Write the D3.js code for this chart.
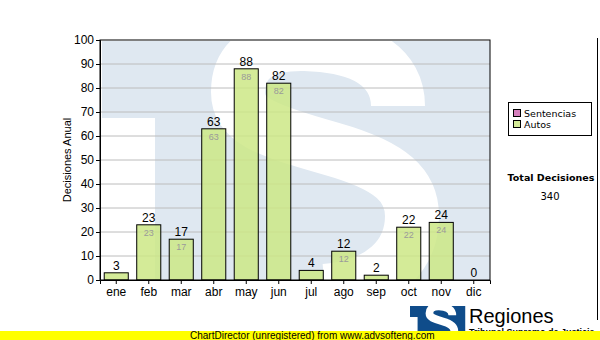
<!DOCTYPE html>
<html>
<head>
<meta charset="utf-8">
<script src="https://cdn.jsdelivr.net/npm/d3@7"></script>
<style>
  body { margin: 0; background: #fff; }
  svg { display: block; }
</style>
</head>
<body>
<script>
// data
var months = ["ene","feb","mar","abr","may","jun","jul","ago","sep","oct","nov","dic"];
var sentencias = [0,0,0,0,0,0,0,0,0,0,0,0];
var autos = [3,23,17,63,88,82,4,12,2,22,24,0];
var yTicks = [0,10,20,30,40,50,60,70,80,90,100];
var legendNames = ["Sentencias","Autos"];
var legendColors = ["#d67fbd","#d4eb98"];
var totalLabel = "Total Decisiones";

var width = 600, height = 340;
var plot = {left: 100, right: 490, top: 40, bottom: 280};

var svg = d3.select("body").append("svg")
    .attr("width", width)
    .attr("height", height);

var x = d3.scaleBand().domain(months).range([plot.left, plot.right])
    .paddingInner(0.26).paddingOuter(0.13);
var y = d3.scaleLinear().domain([0, 100]).range([plot.bottom, plot.top]);

// logo shape, drawn big as watermark and small at the bottom
var sPath = "M398,106 C398,68 365,46 305,44 C258,43 238,62 238,92 C238,120 264,130 332,149 " +
            "C392,166 412,186 412,216 C412,256 382,286 325,291";

function drawLogo(g, id, blue) {
  var clip = svg.append("clipPath").attr("id", id);
  clip.append("rect").attr("x", 102).attr("y", 41).attr("width", 388).attr("height", 239);
  var lg = g.append("g").attr("clip-path", "url(#" + id + ")");
  lg.append("rect").attr("x", 102).attr("y", 41).attr("width", 388).attr("height", 239).attr("fill", blue);
  lg.append("rect").attr("x", 100).attr("y", 118).attr("width", 55).attr("height", 170).attr("fill", "#fff");
  lg.append("path").attr("d", sPath).attr("fill", "none").attr("stroke", "#fff").attr("stroke-width", 54);
}

drawLogo(svg.append("g"), "wm", "#dfe8f1");

// grid
svg.append("g").selectAll("line")
    .data(yTicks.slice(1, -1))
  .enter().append("line")
    .attr("x1", plot.left).attr("x2", plot.right)
    .attr("y1", function(d) { return y(d); })
    .attr("y2", function(d) { return y(d); })
    .attr("stroke", "#bcbcbc");

// bars
var totals = autos.map(function(d, i) { return d + sentencias[i]; });

svg.append("g").selectAll("rect")
    .data(months)
  .enter().append("rect")
    .attr("x", function(d) { return x(d); })
    .attr("y", function(d, i) { return y(autos[i]); })
    .attr("width", x.bandwidth())
    .attr("height", function(d, i) { return y(0) - y(autos[i]); })
    .attr("fill", "#cce786")
    .attr("fill-opacity", 0.85)
    .attr("stroke", function(d, i) { return autos[i] > 0 ? "#000" : "none"; })
    .attr("stroke-width", 1);

svg.append("g").selectAll("text")
    .data(months)
  .enter().append("text")
    .attr("x", function(d) { return x(d) + x.bandwidth() / 2; })
    .attr("y", function(d, i) { return y(totals[i]) - 3; })
    .attr("text-anchor", "middle")
    .style("font", "12px 'Liberation Sans', Arial, sans-serif")
    .attr("fill", "#000")
    .text(function(d, i) { return totals[i]; });

svg.append("g").selectAll("text")
    .data(months.filter(function(d, i) { return y(0) - y(autos[i]) > 20; }))
  .enter().append("text")
    .attr("x", function(d) { return x(d) + x.bandwidth() / 2; })
    .attr("y", function(d) { return y(autos[months.indexOf(d)]) + 11; })
    .attr("text-anchor", "middle")
    .style("font", "9px 'Liberation Sans', Arial, sans-serif")
    .attr("fill", "#9a9a9a")
    .text(function(d) { return autos[months.indexOf(d)]; });

// frame
svg.append("rect")
    .attr("x", plot.left).attr("y", plot.top)
    .attr("width", plot.right - plot.left).attr("height", plot.bottom - plot.top)
    .attr("fill", "none").attr("stroke", "#000");

// axes
var yAxis = svg.append("g")
    .attr("transform", "translate(" + plot.left + ",0)")
    .call(d3.axisLeft(y).tickValues(yTicks).tickSize(4).tickPadding(2));
var xAxis = svg.append("g")
    .attr("transform", "translate(0," + plot.bottom + ")")
    .call(d3.axisBottom(x).tickSize(4).tickPadding(3));
[yAxis, xAxis].forEach(function(a) {
  a.select(".domain").attr("stroke", "#000");
  a.selectAll(".tick line").attr("stroke", "#000");
  a.selectAll("text").style("font", "12px 'Liberation Sans', Arial, sans-serif").attr("fill", "#000");
});

svg.append("text")
    .attr("transform", "translate(71,160) rotate(-90)")
    .attr("text-anchor", "middle")
    .style("font", "11px 'Liberation Sans', Arial, sans-serif")
    .text("Decisiones Anual");

// legend
svg.append("rect")
    .attr("x", 508.5).attr("y", 102.5).attr("width", 83).attr("height", 33)
    .attr("fill", "#fff").attr("stroke", "#000");
var leg = svg.append("g").selectAll("g")
    .data(legendNames)
  .enter().append("g")
    .attr("transform", function(d, i) { return "translate(513," + (109 + i * 11) + ")"; });
leg.append("rect")
    .attr("x", 0.5).attr("y", 0.5).attr("width", 7).attr("height", 7)
    .attr("fill", function(d, i) { return legendColors[i]; })
    .attr("stroke", "#000");
leg.append("text")
    .attr("x", 11).attr("y", 7.5)
    .style("font", "9.5px 'DejaVu Sans', Tahoma, sans-serif")
    .text(function(d) { return d; });

svg.append("text")
    .attr("x", 551).attr("y", 181)
    .attr("text-anchor", "middle")
    .style("font", "bold 9.5px 'DejaVu Sans', Tahoma, sans-serif")
    .text(totalLabel);
svg.append("text")
    .attr("x", 550).attr("y", 200)
    .attr("text-anchor", "middle")
    .style("font", "10px 'DejaVu Sans', Tahoma, sans-serif")
    .text(d3.sum(totals));

svg.append("line")
    .attr("x1", 597.5).attr("x2", 597.5).attr("y1", 38).attr("y2", 320)
    .attr("stroke", "#000");

// bottom logo
var small = svg.append("g")
    .attr("transform", "translate(410,306) scale(0.143) translate(-102,-41)");
drawLogo(small, "lg", "#0f4c8a");
svg.append("text")
    .attr("x", 469).attr("y", 323)
    .style("font", "20px 'Liberation Sans', Arial, sans-serif")
    .text("Regiones");
svg.append("text")
    .attr("x", 469).attr("y", 335)
    .style("font", "bold 9px 'Liberation Sans', Arial, sans-serif")
    .text("Tribunal Supremo de Justicia");

// unregistered banner
svg.append("rect")
    .attr("x", 0).attr("y", 331).attr("width", width).attr("height", 9)
    .attr("fill", "#ffff00");
svg.append("text")
    .attr("x", 190).attr("y", 339)
    .style("font", "10px 'Liberation Sans', Arial, sans-serif")
    .text("ChartDirector (unregistered) from www.advsofteng.com");
</script>
</body>
</html>
